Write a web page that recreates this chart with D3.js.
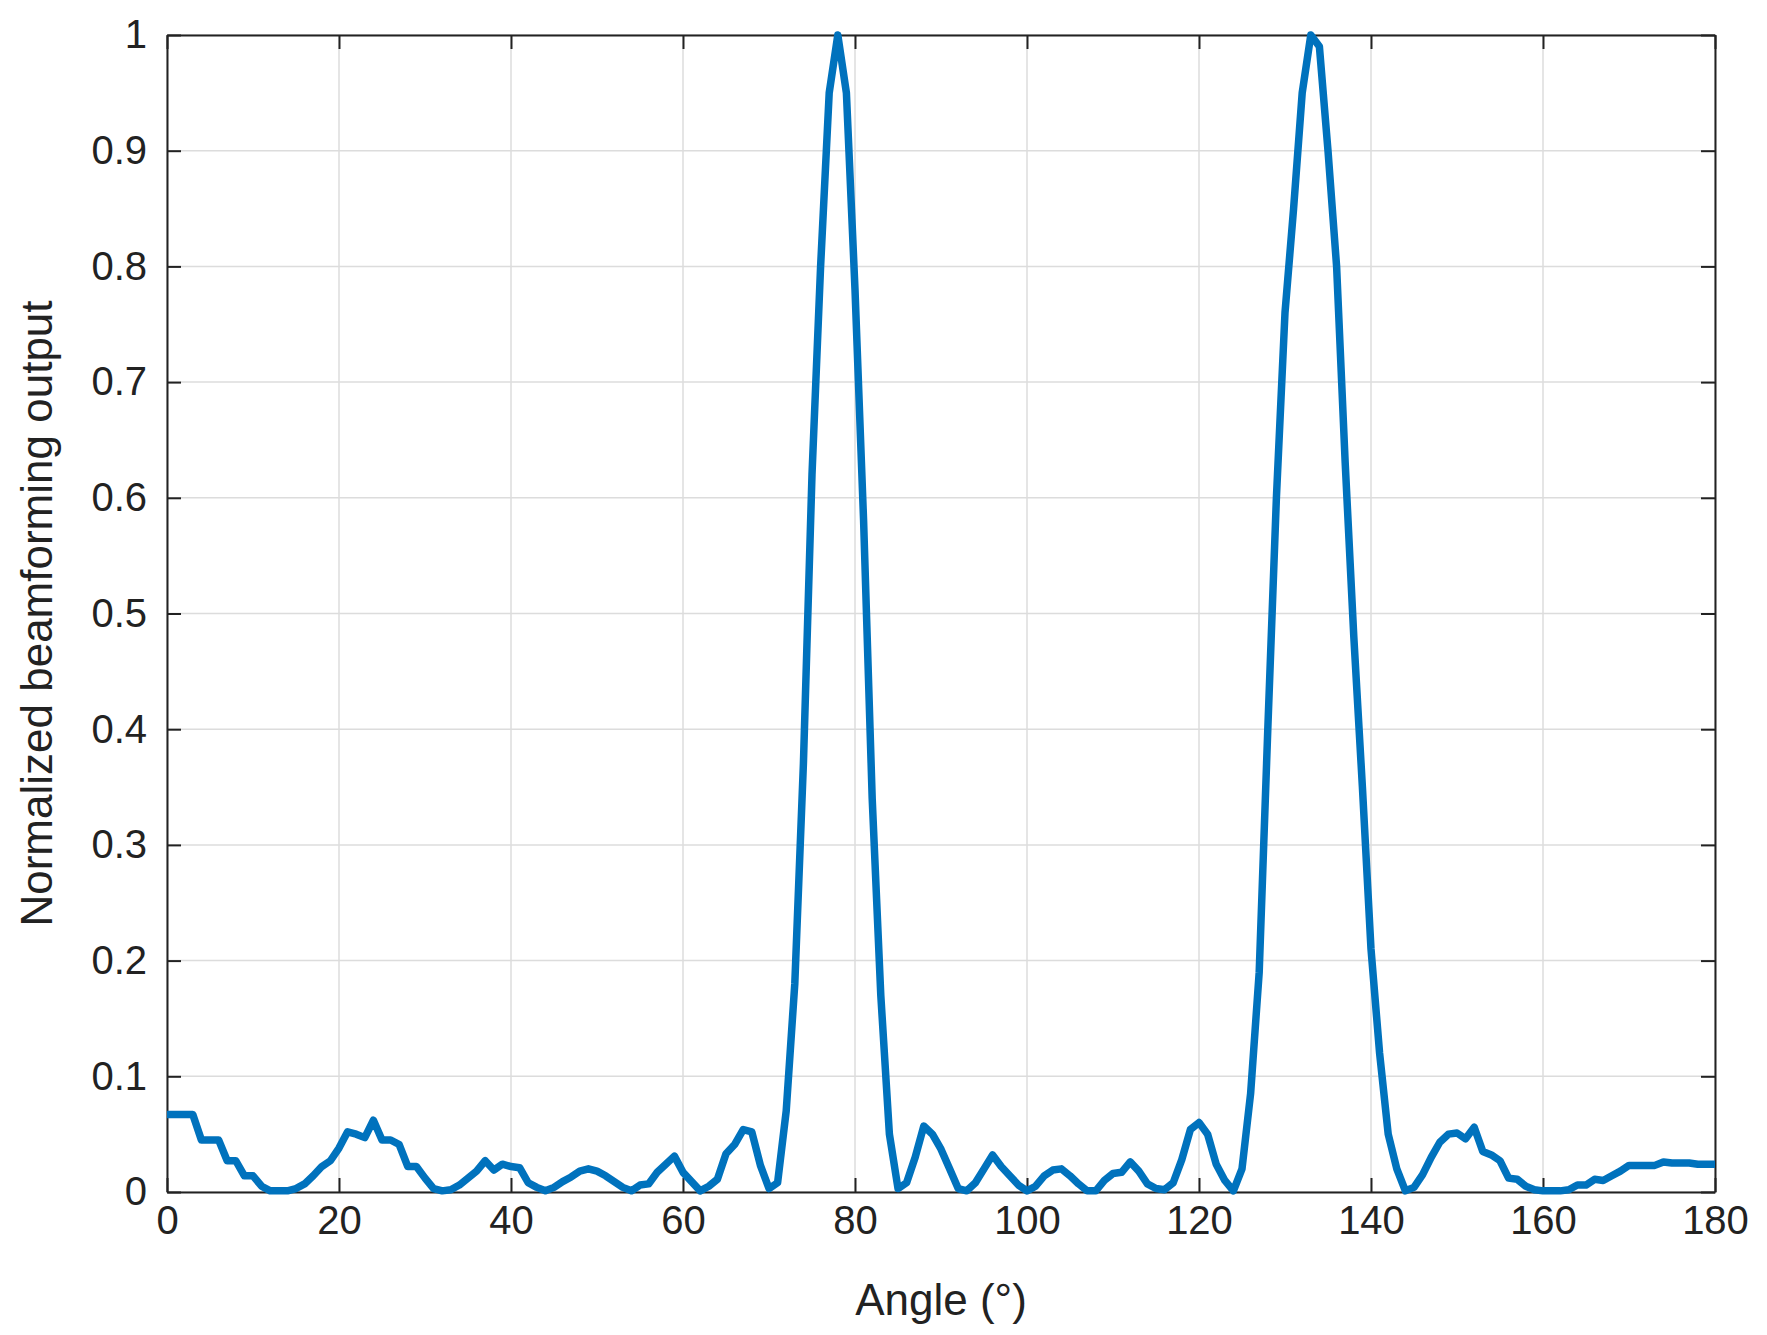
<!DOCTYPE html>
<html><head><meta charset="utf-8">
<script src="https://cdn.jsdelivr.net/npm/d3@7"></script>
<style>body{margin:0;background:#fff}svg{font-family:"Liberation Sans",Arial,sans-serif}</style>
</head><body><div id="chart"></div>
<script>
const angles = d3.range(0, 181);
const output = [
  0.067,0.067,0.067,0.067,0.045,0.045,0.045,0.027,0.027,0.014, // 0-9
  0.014,0.005,0.001,0.001,0.001,0.003,0.007,0.014,0.022,0.027, // 10-19
  0.038,0.052,0.050,0.047,0.062,0.045,0.045,0.041,0.022,0.022, // 20-29
  0.012,0.003,0.001,0.002,0.006,0.012,0.018,0.027,0.019,0.024, // 30-39
  0.022,0.021,0.008,0.004,0.001,0.004,0.009,0.013,0.018,0.020, // 40-49
  0.018,0.014,0.009,0.004,0.001,0.006,0.007,0.017,0.024,0.031, // 50-59
  0.017,0.009,0.001,0.005,0.011,0.033,0.041,0.054,0.052,0.023, // 60-69
  0.003,0.008,0.070,0.180,0.370,0.620,0.800,0.950,1.000,0.950, // 70-79
  0.780,0.580,0.340,0.170,0.050,0.003,0.008,0.030,0.057,0.050, // 80-89
  0.037,0.020,0.003,0.001,0.008,0.020,0.032,0.022,0.014,0.006, // 90-99
  0.001,0.005,0.014,0.019,0.020,0.014,0.007,0.001,0.001,0.010, // 100-109
  0.016,0.017,0.026,0.018,0.007,0.003,0.002,0.008,0.028,0.054, // 110-119
  0.060,0.050,0.024,0.010,0.001,0.020,0.085,0.190,0.400,0.600, // 120-129
  0.760,0.850,0.950,1.000,0.990,0.900,0.800,0.630,0.480,0.350, // 130-139
  0.210,0.120,0.050,0.020,0.001,0.004,0.015,0.030,0.043,0.050, // 140-149
  0.051,0.046,0.056,0.035,0.032,0.027,0.012,0.011,0.005,0.002, // 150-159
  0.001,0.001,0.001,0.002,0.006,0.006,0.011,0.010,0.014,0.018, // 160-169
  0.023,0.023,0.023,0.023,0.026,0.025,0.025,0.025,0.024,0.024, // 170-179
  0.024
];
const xTicks = d3.range(0, 181, 20);
const yTicks = d3.range(0, 1.01, 0.1);

const W = 1767, H = 1335;
const m = {left: 167, right: 52, top: 35, bottom: 143};
const svg = d3.select('#chart').append('svg').attr('width', W).attr('height', H);
const x = d3.scaleLinear().domain([0, 180]).range([m.left, W - m.right]);
const y = d3.scaleLinear().domain([0, 1]).range([H - m.bottom, m.top]);

// Grid
svg.append('g').selectAll('line').data(xTicks).join('line')
    .attr('x1', d => x(d)).attr('x2', d => x(d)).attr('y1', y(0)).attr('y2', y(1))
    .attr('stroke', '#dcdcdc').attr('stroke-width', 1.5);
svg.append('g').selectAll('line').data(yTicks).join('line')
    .attr('x1', x(0)).attr('x2', x(180)).attr('y1', d => y(d)).attr('y2', d => y(d))
    .attr('stroke', '#dcdcdc').attr('stroke-width', 1.5);

// Axes with inward ticks
const fmtY = d => d === 0 ? '0' : d === 1 ? '1' : d3.format('.1f')(d);
const styleAxis = g => {
    g.selectAll('text').attr('font-size', 40).attr('fill', '#222');
    g.selectAll('line,path').attr('stroke', '#222').attr('stroke-width', 2);
};
svg.append('g').attr('transform', `translate(0,${y(0)})`)
    .call(d3.axisBottom(x).tickValues(xTicks).tickSizeInner(-14).tickSizeOuter(0).tickPadding(14))
    .call(styleAxis);
svg.append('g').attr('transform', `translate(${x(0)},0)`)
    .call(d3.axisLeft(y).tickValues(yTicks).tickFormat(fmtY).tickSizeInner(-14).tickSizeOuter(0).tickPadding(20))
    .call(styleAxis);
svg.append('g').attr('transform', `translate(0,${y(1)})`)
    .call(d3.axisTop(x).tickValues(xTicks).tickSizeInner(-14).tickSizeOuter(0).tickFormat(''))
    .call(styleAxis);
svg.append('g').attr('transform', `translate(${x(180)},0)`)
    .call(d3.axisRight(y).tickValues(yTicks).tickSizeInner(-14).tickSizeOuter(0).tickFormat(''))
    .call(styleAxis);

// Line
svg.append('path').datum(angles)
    .attr('d', d3.line().x(d => x(d)).y((d, i) => y(output[i])))
    .attr('fill', 'none').attr('stroke', '#0072BD').attr('stroke-width', 7.5)
    .attr('stroke-linejoin', 'round');

// Labels
svg.append('text').attr('x', (x(0) + x(180)) / 2).attr('y', 1315)
    .attr('text-anchor', 'middle').attr('font-size', 44).attr('fill', '#222').text('Angle (°)');
svg.append('text').attr('transform', `translate(52,${(y(0) + y(1)) / 2}) rotate(-90)`)
    .attr('text-anchor', 'middle').attr('font-size', 44).attr('fill', '#222').text('Normalized beamforming output');
</script></body></html>
